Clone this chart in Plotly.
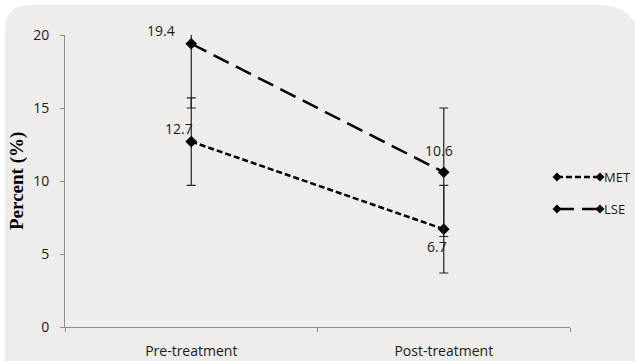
import plotly.graph_objects as go

categories = ["Pre-treatment", "Post-treatment"]
series_names = ["MET", "LSE"]
met_values = [12.7, 6.7]
lse_values = [19.4, 10.6]
met_errors = [3.0, 3.0]
lse_errors = [4.4, 4.4]
y_ticks = [0, 5, 10, 15, 20]

W, H = 635, 361
ML, MR, MT, MB = 65, 65, 35, 34
PW, PH = W - ML - MR, H - MT - MB

def px_x(p):
    return (p - ML) / PW

def px_y(p):
    return (H - MB - p) / PH

FONT = "Open Sans"
TXT = "#1a1a1a"
DASHES = {"MET": "6px,3px", "LSE": "17px,8px"}

fig = go.Figure()

fig.add_trace(go.Scatter(
    x=categories, y=met_values, name=series_names[0], mode="lines+markers",
    line=dict(color="black", width=2.5, dash=DASHES["MET"]),
    marker=dict(symbol="diamond", size=9, color="black"),
    error_y=dict(type="data", array=met_errors, visible=True, color="#222222", thickness=1.2, width=4.5),
    showlegend=False,
))
fig.add_trace(go.Scatter(
    x=categories, y=lse_values, name=series_names[1], mode="lines+markers",
    line=dict(color="black", width=2.5, dash=DASHES["LSE"]),
    marker=dict(symbol="diamond", size=9, color="black"),
    error_y=dict(type="data", array=lse_errors, visible=True, color="#222222", thickness=1.2, width=4.5),
    showlegend=False,
))

# data labels
label_shifts_met = [(-12, 13), (-7, -17)]
label_shifts_lse = [(-30, 13), (-5, 22)]
for vals, shifts in ((met_values, label_shifts_met), (lse_values, label_shifts_lse)):
    for c, v, (dx, dy) in zip(categories, vals, shifts):
        fig.add_annotation(x=c, y=v, text=f"{v}", showarrow=False, xshift=dx, yshift=dy,
                           font=dict(family=FONT, size=14, color=TXT))

# y-axis title
fig.add_annotation(xref="paper", yref="paper", x=px_x(17), y=0.5, text="<b>Percent (%)</b>",
                   textangle=-90, showarrow=False, xanchor="center", yanchor="middle",
                   font=dict(family="Liberation Serif", size=19, color="black"))

# rounded background panel
x0, x1 = px_x(5), px_x(640)
y0, y1 = px_y(366), px_y(5)
rlx, rly = 25 / PW, 25 / PH
rrx, rry = 42 / PW, 42 / PH
path = (f"M {x0},{y0} L {x0},{y1 - rly} Q {x0},{y1} {x0 + rlx},{y1} "
        f"L {x1 - rrx},{y1} Q {x1},{y1} {x1},{y1 - rry} L {x1},{y0} Z")
fig.add_shape(type="path", xref="paper", yref="paper", path=path,
              fillcolor="#EEEDEB", line=dict(width=0), layer="below")

# custom legend (line with diamonds at both ends, text to the right)
def diamond(cx, cy, r=4.5):
    pts = [(cx, cy - r), (cx + r, cy), (cx, cy + r), (cx - r, cy)]
    return "M " + " L ".join(f"{px_x(a)},{px_y(b)}" for a, b in pts) + " Z"

leg_x0, leg_x1, leg_text_x = 557, 600, 602
for name, ly in zip(series_names, (177, 209)):
    fig.add_shape(type="line", xref="paper", yref="paper",
                  x0=px_x(leg_x0), x1=px_x(leg_x1), y0=px_y(ly), y1=px_y(ly),
                  line=dict(color="black", width=2.5, dash=DASHES[name]))
    for cx in (leg_x0, leg_x1):
        fig.add_shape(type="path", xref="paper", yref="paper", path=diamond(cx, ly),
                      fillcolor="black", line=dict(width=0))
    fig.add_annotation(xref="paper", yref="paper", x=px_x(leg_text_x), y=px_y(ly),
                       text=name, showarrow=False, xanchor="left", yanchor="middle",
                       font=dict(family=FONT, size=13, color=TXT))

fig.update_layout(
    width=W, height=H,
    margin=dict(l=ML, r=MR, t=MT, b=MB, autoexpand=False),
    paper_bgcolor="white", plot_bgcolor="rgba(0,0,0,0)",
    font=dict(family=FONT, size=14, color=TXT),
    showlegend=False,
    xaxis=dict(type="category", range=[-0.5, 1.5], tickson="boundaries", ticks="outside", ticklen=4,
               tickcolor="#8c8c8c", showline=True, linecolor="#8c8c8c", linewidth=1,
               showgrid=False, zeroline=False, ticklabelstandoff=11, automargin=False,
               tickfont=dict(family=FONT, size=14, color=TXT)),
    yaxis=dict(range=[0, 20], tickvals=y_ticks, ticks="outside", ticklen=4,
               tickcolor="#8c8c8c", showline=True, linecolor="#8c8c8c", linewidth=1,
               showgrid=False, zeroline=False, ticklabelstandoff=8, automargin=False,
               tickfont=dict(family=FONT, size=14, color=TXT)),
)

fig.write_html("out.html", config={"displayModeBar": False},
               post_script="document.body.style.margin='0px';document.body.style.overflow='hidden';")
